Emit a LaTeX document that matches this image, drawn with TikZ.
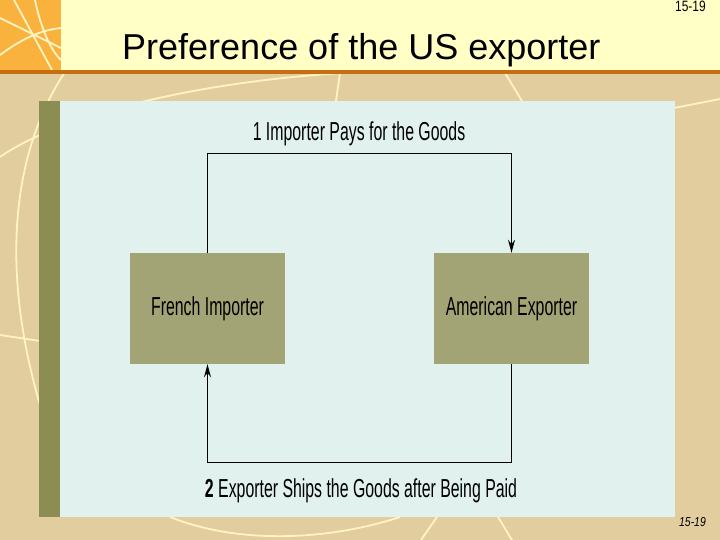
\documentclass[tikz,border=0pt]{standalone}
\usepackage{fontspec}
\setmainfont{Liberation Sans}
\newfontfamily\condfont[FakeStretch=0.61]{Liberation Sans}
\newfontfamily\pgfont[FakeStretch=0.8]{Liberation Sans}
\usetikzlibrary{arrows.meta}
\definecolor{bgtan}{HTML}{E2CD9F}
\definecolor{bandyel}{HTML}{FFFFC6}
\definecolor{orsq}{HTML}{F9B23E}
\definecolor{orline}{HTML}{C86E12}
\definecolor{panel}{HTML}{E1F1EE}
\definecolor{strip}{HTML}{8C8D52}
\definecolor{boxfill}{HTML}{A3A475}
\definecolor{deco}{HTML}{FFF4C2}
\tikzset{
  party/.style={fill=boxfill, draw=none, minimum width=155pt, minimum height=111pt, inner sep=0pt,
    font=\condfont\fontsize{26pt}{30pt}\selectfont},
  lbl/.style={inner sep=0pt, font=\condfont\fontsize{26pt}{30pt}\selectfont},
  flow/.style={draw=black, line width=1.4pt, -{Stealth[length=13pt,width=7pt]}},
  decoline/.style={draw=deco, line width=1.8pt}
}
\begin{document}
\begin{tikzpicture}[x=1pt,y=-1pt]
\useasboundingbox (0,0) rectangle (720,540);
% backgrounds
\fill[bgtan] (0,0) rectangle (720,540);
\fill[bandyel] (0,0) rectangle (720,70);
\fill[orsq] (0,0) rectangle (61,70);
% decorative lines in the orange square
\begin{scope}
\clip (0,0) rectangle (61,70);
\draw[decoline] (0,18) -- (61,48);
\draw[decoline] (14,0) -- (52,70);
\draw[decoline] (0,55) .. controls (20,40) and (40,30) .. (61,28);
\draw[decoline] (35,0) .. controls (40,25) and (50,50) .. (61,60);
\end{scope}
% decorative lines on the tan background
\begin{scope}
\clip (0,74) rectangle (720,540);
\draw[decoline] (65,72) .. controls (20,140) and (-5,250) .. (40,405);
\draw[decoline] (0,157) .. controls (60,115) and (200,80) .. (360,72);
\draw[decoline] (0,335) -- (40,341);
\draw[decoline] (340,73) -- (336,101);
\draw[decoline] (505,73) -- (522,101);
\draw[decoline] (674,108) -- (720,99);
\draw[decoline] (170,517) .. controls (240,545) and (330,540) .. (400,517);
\draw[decoline] (437,517) -- (421,540);
\draw[decoline] (498,517) -- (512,540);
\end{scope}
\fill[orline] (0,70) rectangle (720,74);
% title and page numbers
\node[anchor=base west, inner sep=0pt, font=\fontsize{36pt}{40pt}\selectfont] (title) at (122,60) {Preference of the US exporter};
\node[anchor=base east, inner sep=0pt, font=\pgfont\fontsize{15pt}{17pt}\selectfont] (pgtop) at (706,12) {15-19};
% panel
\fill[panel] (39,101) rectangle (675,517);
\fill[strip] (39,101) rectangle (60,517);
\node[anchor=base east, inner sep=0pt, font=\pgfont\itshape\fontsize{13pt}{15pt}\selectfont] (pgbot) at (706,526) {15-19};
% parties
\node[party] (fi) at (207.5,308.5) {French Importer};
\node[party] (ae) at (511.5,308.5) {American Exporter};
% flows
\draw[flow] (fi.north) -- ++(0,-99) -| (ae.north);
\draw[flow] (ae.south) -- ++(0,98) -| (fi.south);
\node[lbl, anchor=base] (l1) at (359,141) {1 Importer Pays for the Goods};
\node[lbl, anchor=base] (l2) at (361,497) {\textbf{2} Exporter Ships the Goods after Being Paid};
\end{tikzpicture}
\end{document}
